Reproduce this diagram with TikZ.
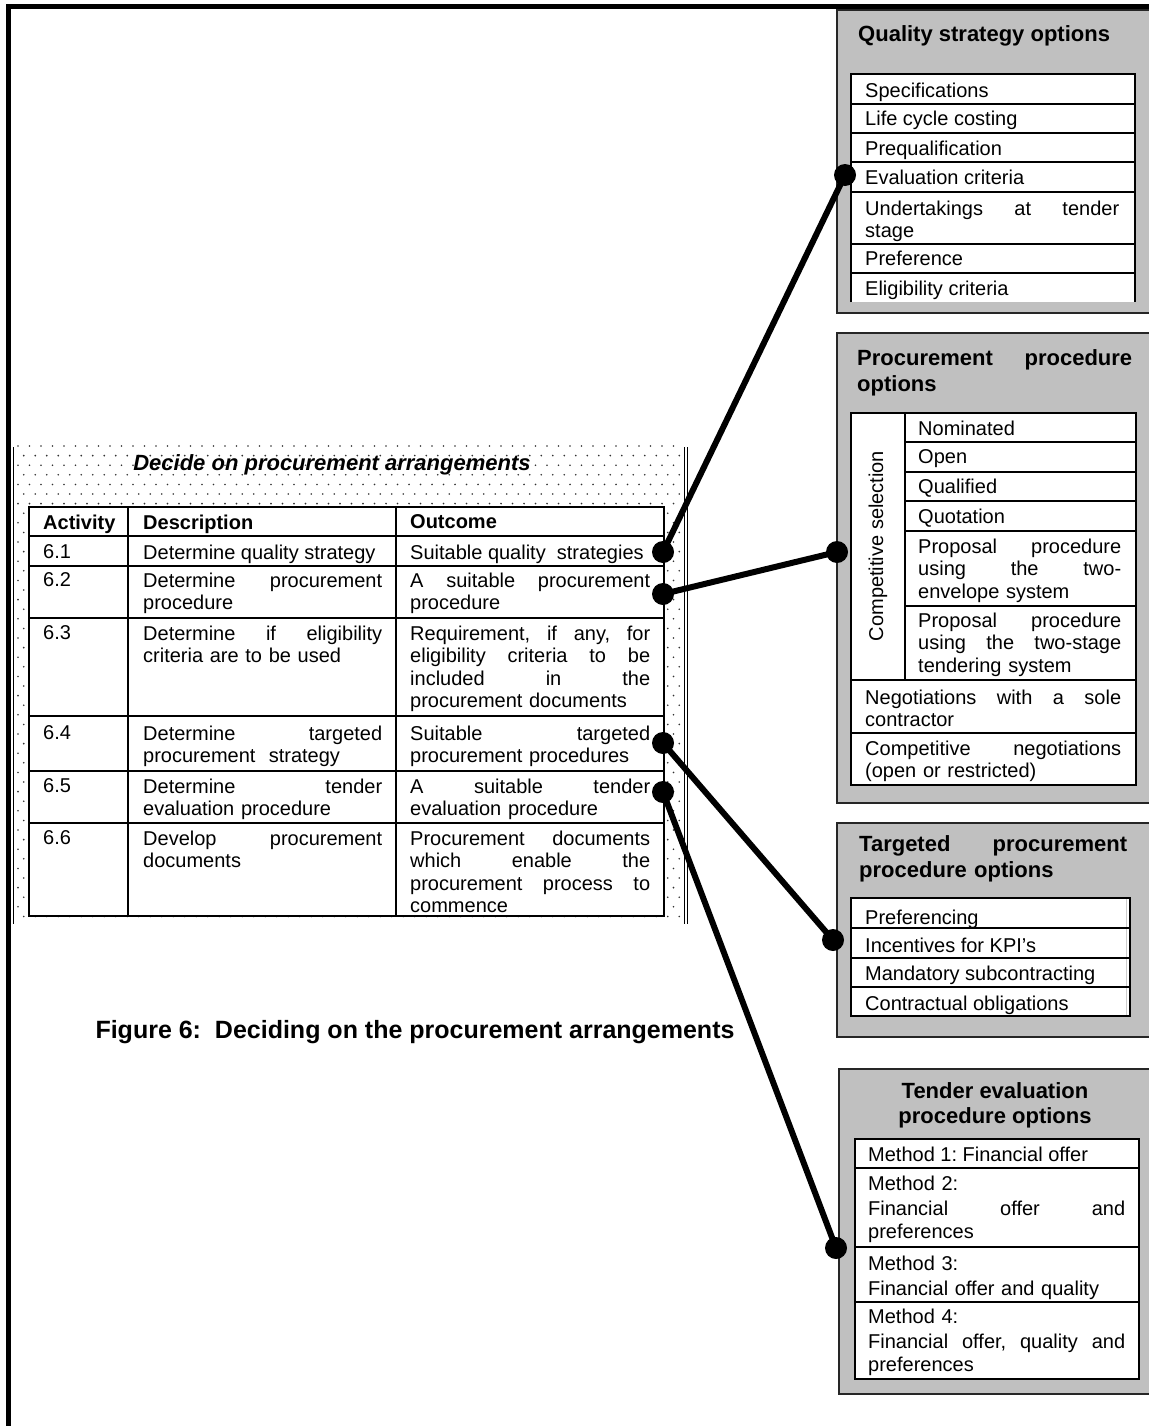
\documentclass[tikz,border=0pt]{standalone}
\usepackage{fontspec}
\setmainfont{Liberation Sans}
\frenchspacing
\hyphenpenalty=10000
\exhyphenpenalty=10000
\definecolor{boxgray}{RGB}{192,192,192}
\tikzset{
  frame/.style={line width=5pt},
  optbox/.style={draw=black!85, line width=2pt, fill=boxgray},
  tabline/.style={draw=black, line width=1.6pt},
  cell/.style={anchor=north west, inner sep=0pt, align=left,
    font=\fontsize{20}{22.5}\selectfont},
  titletext/.style={anchor=north west, inner sep=0pt, align=left,
    font=\fontsize{22}{26}\selectfont\bfseries},
  headtext/.style={anchor=north west, inner sep=0pt,
    font=\fontsize{20}{22.5}\selectfont\bfseries},
  conn/.style={line width=6pt},
  knob/.style={circle, fill=black, minimum size=22pt, inner sep=0pt},
  dotc/.style={fill=black!80},
}
\begin{document}
\begin{tikzpicture}[x=1pt,y=-1pt]
\useasboundingbox (0,0) rectangle (1148,1426);
\fill[white] (0,0) rectangle (1148,1426);

% page frame
\draw[frame] (8.5,1432) -- (8.5,6.5) -- (1154,6.5);

% ---------- Quality strategy options ----------
\draw[optbox] (837,10) rectangle (1154,313);
\node[titletext] (qtitle) at (858,25) {Quality strategy options};
\fill[white] (851,74) rectangle (1135,302);
\draw[tabline] (851,302) -- (851,74) -- (1135,74) -- (1135,302);
\foreach \y in {104,133,162,192,244,273} \draw[tabline] (851,\y) -- (1135,\y);
\node[cell] (q1) at (865,82.5) {Specifications};
\node[cell] (q2) at (865,110.5) {Life cycle costing};
\node[cell] (q3) at (865,140.5) {Prequalification};
\node[cell] (q4) at (865,169.5) {Evaluation criteria};
\node[cell, text width=254pt] (q5) at (865,200.5) {Undertakings\hfill at\hfill tender\\stage};
\node[cell] (q6) at (865,250.5) {Preference};
\node[cell] (q7) at (865,280.5) {Eligibility criteria};

% ---------- Procurement procedure options ----------
\draw[optbox] (837,333) rectangle (1154,803);
\node[titletext, text width=275pt] (ptitle) at (857,349) {Procurement\hfill procedure\\options};
\fill[white] (851,413) rectangle (1136,785);
\draw[tabline] (851,413) rectangle (1136,785);
\draw[tabline] (905,413) -- (905,680);
\foreach \y in {442,472,501,531,606} \draw[tabline] (905,\y) -- (1136,\y);
\foreach \y in {680,733} \draw[tabline] (851,\y) -- (1136,\y);
\node[rotate=90, inner sep=0pt, font=\fontsize{20}{22.5}\selectfont] (csel) at (878,546) {Competitive selection};
\node[cell] (p1) at (918,420.5) {Nominated};
\node[cell] (p2) at (918,449.5) {Open};
\node[cell] (p3) at (918,478.5) {Qualified};
\node[cell] (p4) at (918,508.5) {Quotation};
\node[cell, text width=203pt] (p5) at (918,538.5)
  {Proposal\hfill procedure\\using\hfill the\hfill two-\\envelope system};
\node[cell, text width=203pt] (p6) at (918,612.5)
  {Proposal\hfill procedure\\using\hfill the\hfill two-stage\\tendering system};
\node[cell, text width=256pt] (p7) at (865,689.5)
  {Negotiations\hfill with\hfill a\hfill sole\\contractor};
\node[cell, text width=256pt] (p8) at (865,740.5)
  {Competitive\hfill negotiations\\(open or restricted)};

% ---------- Targeted procurement procedure options ----------
\draw[optbox] (837,823) rectangle (1154,1037);
\node[titletext, text width=268pt] (ttitle) at (859,835)
  {Targeted\hfill procurement\\procedure options};
\fill[white] (851,898) rectangle (1130,1016);
\draw[gray!40, line width=0.8pt] (1126,898) -- (1126,1016);
\draw[tabline] (851,898) rectangle (1130,1016);
\foreach \y in {928,958,987} \draw[tabline] (851,\y) -- (1130,\y);
\node[cell] (t1) at (865,909.5) {Preferencing};
\node[cell] (t2) at (865,937.5) {Incentives for KPI’s};
\node[cell] (t3) at (865,965.5) {Mandatory subcontracting};
\node[cell] (t4) at (865,995.5) {Contractual obligations};

% ---------- Tender evaluation procedure options ----------
\draw[optbox] (839,1069) rectangle (1154,1394);
\node[inner sep=0pt, align=center, font=\fontsize{22}{25}\selectfont\bfseries] (etitle)
  at (995,1105.5) {Tender evaluation\\procedure options};
\fill[white] (855,1139) rectangle (1139,1379);
\draw[tabline] (855,1139) rectangle (1139,1379);
\foreach \y in {1168,1247,1302} \draw[tabline] (855,\y) -- (1139,\y);
\node[cell] (e1) at (868,1146.5) {Method 1: Financial offer};
\node[cell, text width=257pt] (e2) at (868,1175.5)
  {Method 2:\\[3pt]Financial\hfill offer\hfill and\\preferences};
\node[cell, text width=257pt] (e3) at (868,1255.5)
  {Method 3:\\[3pt]Financial offer and quality};
\node[cell, text width=257pt] (e4) at (868,1308.5)
  {Method 4:\\[3pt]Financial\hfill offer,\hfill quality\hfill and\\preferences};

% ---------- Activity sheet with dotted background ----------
\foreach \r in {0,...,49} {
  \foreach \c in {0,...,57} {
    \fill[dotc] ({18+11.5*\c+5.75*mod(\r,2)},{446+9.6*\r}) circle (0.9);
  }
}
\draw[black, line width=1.3pt] (13.5,447) -- (13.5,924);
\draw[black, line width=1pt] (684.8,447) -- (684.8,924);
\draw[black, line width=1pt] (687.6,447) -- (687.6,924);
\node[inner sep=2pt, font=\fontsize{22}{26}\selectfont\bfseries\itshape] (sheet)
  at (332,465) {Decide on procurement arrangements};

\fill[white] (29,507) rectangle (664,916);
\draw[tabline] (29,507) rectangle (664,916);
\draw[tabline] (128,507) -- (128,916);
\draw[tabline] (396,507) -- (396,916);
\foreach \y in {536,566,618,716,771,823} \draw[tabline] (29,\y) -- (664,\y);

\node[headtext] (h1) at (43,514.5) {Activity};
\node[headtext] (h2) at (143,514.5) {Description};
\node[headtext] (h3) at (410,514.5) {Outcome};

\node[cell] (n1) at (43,544.5) {6.1};
\node[cell] (n2) at (43,572.5) {6.2};
\node[cell] (n3) at (43,625.5) {6.3};
\node[cell] (n4) at (43,725.5) {6.4};
\node[cell] (n5) at (43,778.5) {6.5};
\node[cell] (n6) at (43,830.5) {6.6};

\node[cell] (d1) at (143,544.5) {Determine quality strategy};
\node[cell, text width=239pt] (d2) at (143,572.5) {Determine\hfill procurement\\procedure};
\node[cell, text width=239pt] (d3) at (143,625.5) {Determine\hfill if\hfill eligibility\\criteria are to be used};
\node[cell, text width=239pt] (d4) at (143,725.5) {Determine\hfill targeted\\procurement\ \ strategy};
\node[cell, text width=239pt] (d5) at (143,778.5) {Determine\hfill tender\\evaluation procedure};
\node[cell, text width=239pt] (d6) at (143,830.5) {Develop\hfill procurement\\documents};

\node[cell] (o1) at (410,544.5) {Suitable quality\ \ strategies};
\node[cell, text width=240pt] (o2) at (410,572.5) {A\hfill suitable\hfill procurement\\procedure};
\node[cell, text width=240pt] (o3) at (410,625.5)
  {Requirement,\hfill if\hfill any,\hfill for\\eligibility\hfill criteria\hfill to\hfill be\\included\hfill in\hfill the\\procurement documents};
\node[cell, text width=240pt] (o4) at (410,725.5) {Suitable\hfill targeted\\procurement procedures};
\node[cell, text width=240pt] (o5) at (410,778.5) {A\hfill suitable\hfill tender\\evaluation procedure};
\node[cell, text width=240pt] (o6) at (410,830.5)
  {Procurement\hfill documents\\which\hfill enable\hfill the\\procurement\hfill process\hfill to\\commence};

% ---------- caption ----------
\node[inner sep=0pt, font=\fontsize{25}{29}\selectfont\bfseries] (caption)
  at (415,1032) {Figure 6:\ \ Deciding on the procurement arrangements};

% ---------- connectors ----------
\node[knob] (a1) at (663,552) {};
\node[knob] (a2) at (663,594) {};
\node[knob] (a4) at (663,743) {};
\node[knob] (a5) at (663,792) {};
\node[knob] (b1) at (845,175) {};
\node[knob] (b2) at (837,552) {};
\node[knob] (b4) at (833,940) {};
\node[knob] (b5) at (836,1248) {};
\draw[conn] (a1.center) -- (b1.center);
\draw[conn] (a2.center) -- (b2.center);
\draw[conn] (a4.center) -- (b4.center);
\draw[conn] (a5.center) -- (b5.center);
\end{tikzpicture}
\end{document}
